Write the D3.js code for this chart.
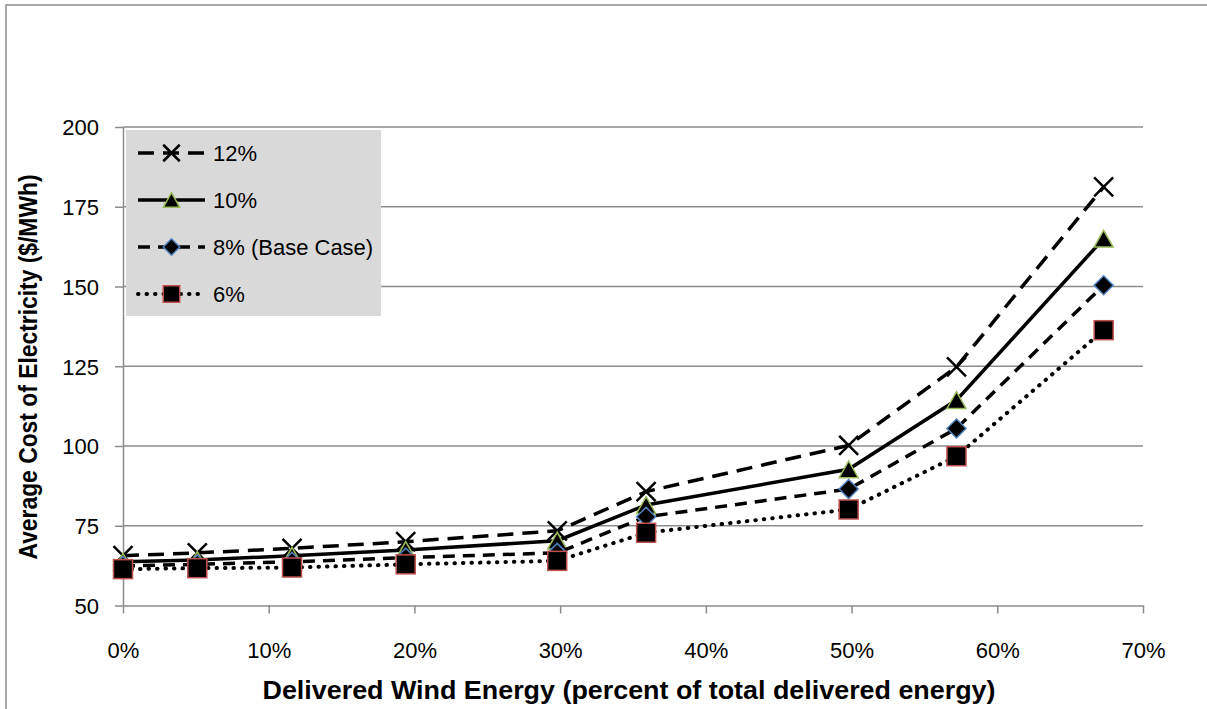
<!DOCTYPE html>
<html lang="en">
<head>
    <meta charset="UTF-8">
    <title>Average Cost of Electricity vs Delivered Wind Energy</title>
    <script src="https://d3js.org/d3.v7.min.js"></script>
    <style>
        body { margin: 0; background: #fff; }
        svg { font-family: "Liberation Sans", Arial, sans-serif; }
        .grid line { stroke: #8c8c8c; stroke-width: 1.5; }
        .axis path, .axis line { stroke: #8c8c8c; stroke-width: 1.5; }
        .axis text { font-size: 22px; fill: #000; }
    </style>
</head>
<body>
    <svg id="chart" width="1207" height="709"></svg>

    <script>
        // data (x in percent, y in $/MWh)
        const windShare = [0, 5.1, 11.6, 19.4, 29.8, 35.9, 49.8, 57.2, 67.3];
        const rate12 = [65.6, 66.5, 67.9, 70.0, 73.4, 85.7, 100.2, 124.8, 181.2];
        const rate10 = [63.7, 64.3, 65.6, 67.4, 70.3, 81.5, 92.7, 114.4, 165.0];
        const rate8 = [62.4, 62.9, 63.7, 65.0, 66.5, 77.8, 86.5, 105.5, 150.4];
        const rate6 = [61.4, 61.7, 61.9, 62.9, 64.0, 72.8, 80.1, 96.8, 136.3];
        const seriesNames = ["12%", "10%", "8% (Base Case)", "6%"];
        const xTicks = [0, 10, 20, 30, 40, 50, 60, 70];
        const yTicks = [50, 75, 100, 125, 150, 175, 200];

        const svg = d3.select("#chart");

        // outer frame
        svg.append("rect")
            .attr("x", 6).attr("y", 5)
            .attr("width", 1220).attr("height", 720)
            .attr("fill", "none")
            .attr("stroke", "#8c8c8c")
            .attr("stroke-width", 1.5);

        const x = d3.scaleLinear().domain([0, 70]).range([123, 1143]);
        const y = d3.scaleLinear().domain([50, 200]).range([605.5, 127]);

        // horizontal gridlines
        svg.append("g")
            .attr("class", "grid")
            .selectAll("line")
            .data(yTicks.slice(1))
            .enter()
            .append("line")
            .attr("x1", x(0)).attr("x2", x(70))
            .attr("y1", d => y(d)).attr("y2", d => y(d));

        // axes
        const xAxis = svg.append("g")
            .attr("class", "axis")
            .attr("transform", `translate(0,${y(50)})`)
            .call(d3.axisBottom(x).tickValues(xTicks).tickFormat(d => d + "%").tickSize(8).tickSizeOuter(0).tickPadding(30));
        xAxis.selectAll("text").attr("dy", null).attr("y", 52);

        const yAxis = svg.append("g")
            .attr("class", "axis")
            .attr("transform", `translate(${x(0)},0)`)
            .call(d3.axisLeft(y).tickValues(yTicks).tickSize(8).tickSizeOuter(0).tickPadding(16));
        yAxis.selectAll("text").attr("dy", "0.36em");

        // axis titles
        svg.append("text")
            .attr("x", 629).attr("y", 699)
            .attr("text-anchor", "middle")
            .attr("font-size", 25)
            .attr("font-weight", "bold")
            .attr("textLength", 733)
            .attr("lengthAdjust", "spacingAndGlyphs")
            .text("Delivered Wind Energy (percent of total delivered energy)");

        svg.append("text")
            .attr("transform", "translate(37,367) rotate(-90)")
            .attr("text-anchor", "middle")
            .attr("font-size", 25)
            .attr("font-weight", "bold")
            .attr("textLength", 385)
            .attr("lengthAdjust", "spacingAndGlyphs")
            .text("Average Cost of Electricity ($/MWh)");

        // series styles
        const series = [
            { name: seriesNames[0], values: rate12, dash: "16,9", cap: "butt", width: 3.5, marker: "x", edge: "#000" },
            { name: seriesNames[1], values: rate10, dash: null, cap: "butt", width: 3.5, marker: "triangle", edge: "#9bbb59" },
            { name: seriesNames[2], values: rate8, dash: "12,8", cap: "butt", width: 3.5, marker: "diamond", edge: "#4f81bd" },
            { name: seriesNames[3], values: rate6, dash: "0.5,8", cap: "round", width: 4, marker: "square", edge: "#c0504d" }
        ];

        function drawMarker(g, type, cx, cy, size, edge) {
            const h = size / 2;
            if (type === "x") {
                g.append("path")
                    .attr("d", `M${cx - h},${cy - h}L${cx + h},${cy + h}M${cx - h},${cy + h}L${cx + h},${cy - h}`)
                    .attr("stroke", "#000").attr("stroke-width", 2.5).attr("fill", "none");
            } else if (type === "triangle") {
                const th = size * 0.88;
                g.append("path")
                    .attr("d", `M${cx},${cy - th / 2}L${cx + h},${cy + th / 2}L${cx - h},${cy + th / 2}Z`)
                    .attr("fill", "#000").attr("stroke", edge).attr("stroke-width", 1.5);
            } else if (type === "diamond") {
                g.append("path")
                    .attr("d", `M${cx},${cy - h}L${cx + h},${cy}L${cx},${cy + h}L${cx - h},${cy}Z`)
                    .attr("fill", "#000").attr("stroke", edge).attr("stroke-width", 1.5);
            } else {
                g.append("rect")
                    .attr("x", cx - h).attr("y", cy - h)
                    .attr("width", size).attr("height", size)
                    .attr("fill", "#000").attr("stroke", edge).attr("stroke-width", 1.5);
            }
        }

        const line = d3.line().x(d => x(d[0])).y(d => y(d[1]));

        series.forEach(s => {
            const pts = windShare.map((w, i) => [w, s.values[i]]);
            const g = svg.append("g");
            g.append("path")
                .datum(pts)
                .attr("d", line)
                .attr("fill", "none")
                .attr("stroke", "#000")
                .attr("stroke-width", s.width)
                .attr("stroke-linecap", s.cap)
                .attr("stroke-dasharray", s.dash);
            pts.forEach(p => drawMarker(g, s.marker, x(p[0]), y(p[1]), 19, s.edge));
        });

        // legend
        const legend = svg.append("g");
        legend.append("rect")
            .attr("x", 126).attr("y", 130)
            .attr("width", 255).attr("height", 186)
            .attr("fill", "#d9d9d9");

        series.forEach((s, i) => {
            const ly = 153 + i * 47;
            legend.append("line")
                .attr("x1", 138).attr("x2", 205)
                .attr("y1", ly).attr("y2", ly)
                .attr("stroke", "#000")
                .attr("stroke-width", s.width)
                .attr("stroke-linecap", s.cap)
                .attr("stroke-dasharray", s.dash);
            drawMarker(legend, s.marker, 171.5, ly, 16.5, s.edge);
            legend.append("text")
                .attr("x", 213).attr("y", ly)
                .attr("dy", "0.36em")
                .attr("font-size", 22)
                .text(s.name);
        });
    </script>
</body>
</html>
